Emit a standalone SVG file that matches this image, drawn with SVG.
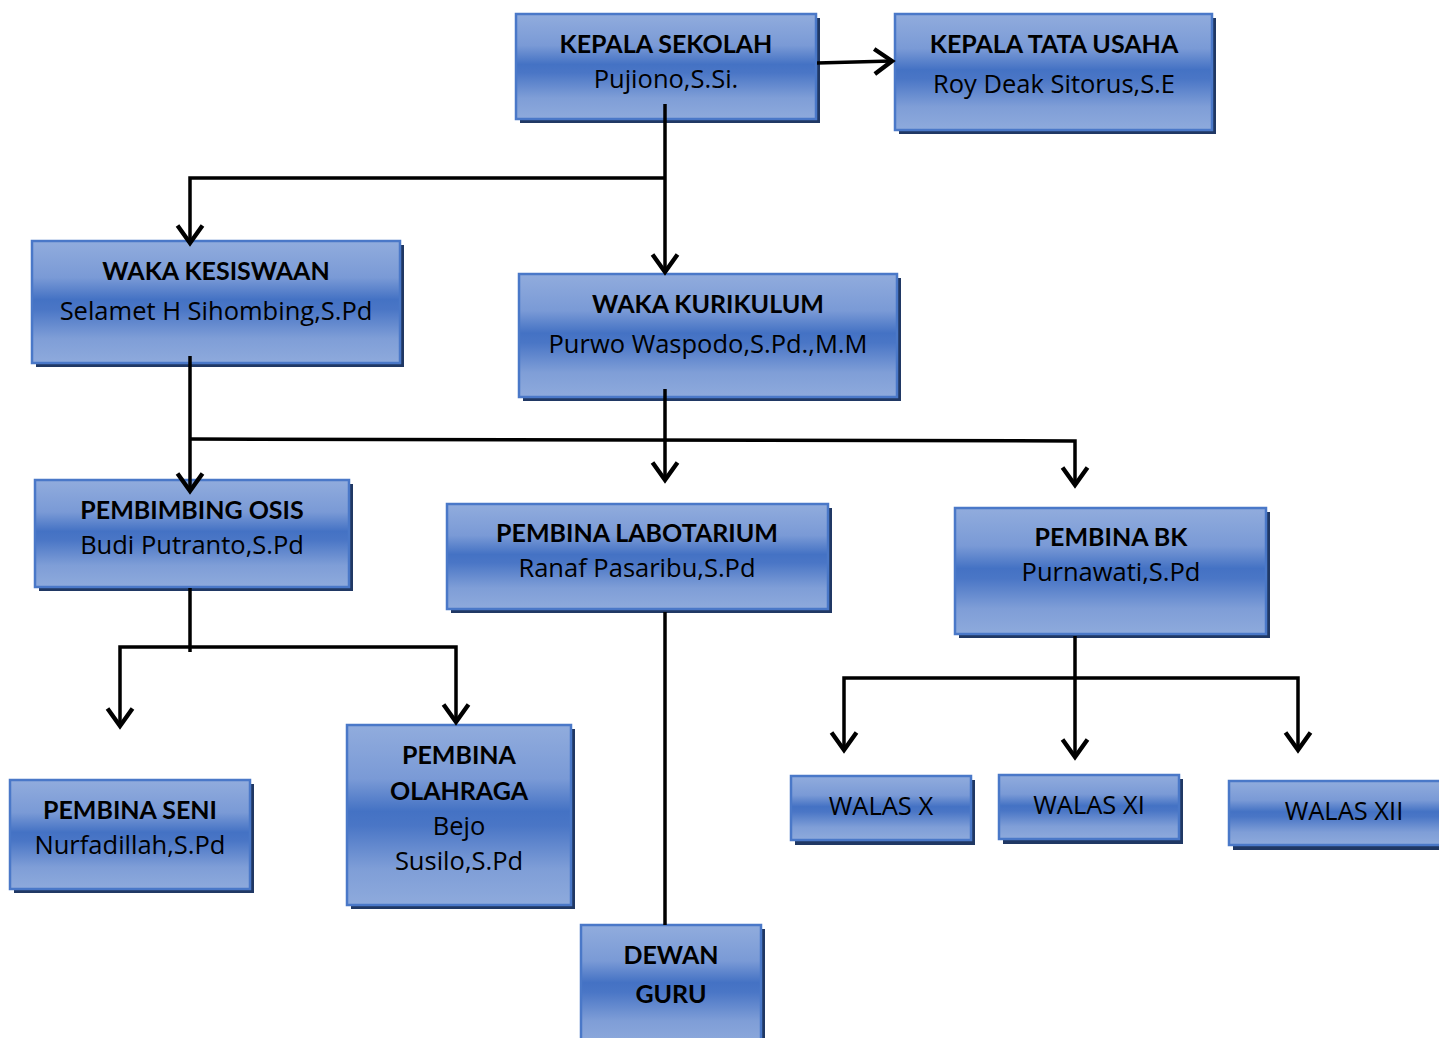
<svg xmlns="http://www.w3.org/2000/svg" width="1439" height="1038" viewBox="0 0 1439 1038">
<defs>
<linearGradient id="g" x1="0" y1="0" x2="0" y2="1">
<stop offset="0" stop-color="#91acdd"/>
<stop offset="0.3" stop-color="#7a9ad6"/>
<stop offset="0.48" stop-color="#4472c4"/>
<stop offset="0.56" stop-color="#4a76c6"/>
<stop offset="0.8" stop-color="#7f9ed7"/>
<stop offset="1" stop-color="#8eaadc"/>
</linearGradient>
<marker id="arr" markerUnits="userSpaceOnUse" markerWidth="30" markerHeight="30" viewBox="-16 -12 20 24" refX="0" refY="0" orient="auto" overflow="visible">
<path d="M-14,-10 L0,0 L-14,10" fill="none" stroke="#000" stroke-width="3.5"/>
</marker>
</defs>
<style>
.sh{fill:#203864}
.bx{fill:url(#g);stroke:#4a78c8;stroke-width:2.5}
.t{font-family:"Open Sans","Noto Sans","Liberation Sans",sans-serif;font-size:25.5px;text-anchor:middle;fill:#000}
.b{font-family:Lato,"Open Sans","Liberation Sans",sans-serif;font-size:25px;font-weight:bold}
.c{fill:none;stroke:#000;stroke-width:3.5}
</style>
<rect width="1439" height="1038" fill="#fff"/>
<g id="kepala-sekolah">
<rect class="sh" x="520" y="18" width="300" height="105"/>
<rect class="bx" x="516" y="14" width="300" height="105"/>
<text class="t b" x="666" y="53">KEPALA SEKOLAH</text>
<text class="t" x="666" y="88">Pujiono,S.Si.</text>
</g>
<g id="kepala-tata-usaha">
<rect class="sh" x="899" y="18" width="317" height="116"/>
<rect class="bx" x="895" y="14" width="317" height="116"/>
<text class="t b" x="1054" y="53">KEPALA TATA USAHA</text>
<text class="t" x="1054" y="93">Roy Deak Sitorus,S.E</text>
</g>
<g id="waka-kesiswaan">
<rect class="sh" x="36" y="245" width="368" height="122"/>
<rect class="bx" x="32" y="241" width="368" height="122"/>
<text class="t b" x="216" y="280">WAKA KESISWAAN</text>
<text class="t" x="216" y="320">Selamet H Sihombing,S.Pd</text>
</g>
<g id="waka-kurikulum">
<rect class="sh" x="523" y="278" width="378" height="123"/>
<rect class="bx" x="519" y="274" width="378" height="123"/>
<text class="t b" x="708" y="313">WAKA KURIKULUM</text>
<text class="t" x="708" y="353">Purwo Waspodo,S.Pd.,M.M</text>
</g>
<g id="pembimbing-osis">
<rect class="sh" x="39" y="484" width="314" height="107"/>
<rect class="bx" x="35" y="480" width="314" height="107"/>
<text class="t b" x="192" y="519">PEMBIMBING OSIS</text>
<text class="t" x="192" y="554">Budi Putranto,S.Pd</text>
</g>
<g id="pembina-labotarium">
<rect class="sh" x="451" y="508" width="381" height="105"/>
<rect class="bx" x="447" y="504" width="381" height="105"/>
<text class="t b" x="637" y="542">PEMBINA LABOTARIUM</text>
<text class="t" x="637" y="577">Ranaf Pasaribu,S.Pd</text>
</g>
<g id="pembina-bk">
<rect class="sh" x="959" y="512" width="311" height="126"/>
<rect class="bx" x="955" y="508" width="311" height="126"/>
<text class="t b" x="1111" y="546">PEMBINA BK</text>
<text class="t" x="1111" y="581">Purnawati,S.Pd</text>
</g>
<g id="pembina-seni">
<rect class="sh" x="14" y="784" width="240" height="109"/>
<rect class="bx" x="10" y="780" width="240" height="109"/>
<text class="t b" x="130" y="819">PEMBINA SENI</text>
<text class="t" x="130" y="854">Nurfadillah,S.Pd</text>
</g>
<g id="pembina-olahraga">
<rect class="sh" x="351" y="729" width="224" height="180"/>
<rect class="bx" x="347" y="725" width="224" height="180"/>
<text class="t b" x="459" y="764">PEMBINA</text>
<text class="t b" x="459" y="800">OLAHRAGA</text>
<text class="t" x="459" y="835">Bejo</text>
<text class="t" x="459" y="870">Susilo,S.Pd</text>
</g>
<g id="walas-x">
<rect class="sh" x="795" y="780" width="180" height="65"/>
<rect class="bx" x="791" y="776" width="180" height="64"/>
<text class="t" x="881" y="815">WALAS X</text>
</g>
<g id="walas-xi">
<rect class="sh" x="1003" y="779" width="180" height="65"/>
<rect class="bx" x="999" y="775" width="180" height="64"/>
<text class="t" x="1089" y="814">WALAS XI</text>
</g>
<g id="walas-xii">
<rect class="sh" x="1233" y="785" width="215" height="65"/>
<rect class="bx" x="1229" y="781" width="215" height="64"/>
<text class="t" x="1344" y="820">WALAS XII</text>
</g>
<g id="dewan-guru">
<rect class="sh" x="585" y="929" width="180" height="120"/>
<rect class="bx" x="581" y="925" width="180" height="120"/>
<text class="t b" x="671" y="964">DEWAN</text>
<text class="t b" x="671" y="1003">GURU</text>
</g>
<g id="connectors">
<path class="c" d="M817,63 L892,61" marker-end="url(#arr)"/>
<path class="c" d="M665,104 L665,272" marker-end="url(#arr)"/>
<path class="c" d="M665,178 L190,178 L190,243" marker-end="url(#arr)"/>
<path class="c" d="M190,356 L190,491" marker-end="url(#arr)"/>
<path class="c" d="M190,439 L1075,441 L1075,485" marker-end="url(#arr)"/>
<path class="c" d="M665,389 L665,480" marker-end="url(#arr)"/>
<path class="c" d="M190,588 L190,652"/>
<path class="c" d="M190,647 L120,647 L120,726" marker-end="url(#arr)"/>
<path class="c" d="M190,647 L456,647 L456,722" marker-end="url(#arr)"/>
<path class="c" d="M665,612 L665,925"/>
<path class="c" d="M1075,636 L1075,757" marker-end="url(#arr)"/>
<path class="c" d="M1075,678 L844,678 L844,750" marker-end="url(#arr)"/>
<path class="c" d="M1075,678 L1298,678 L1298,750" marker-end="url(#arr)"/>
</g>
</svg>
